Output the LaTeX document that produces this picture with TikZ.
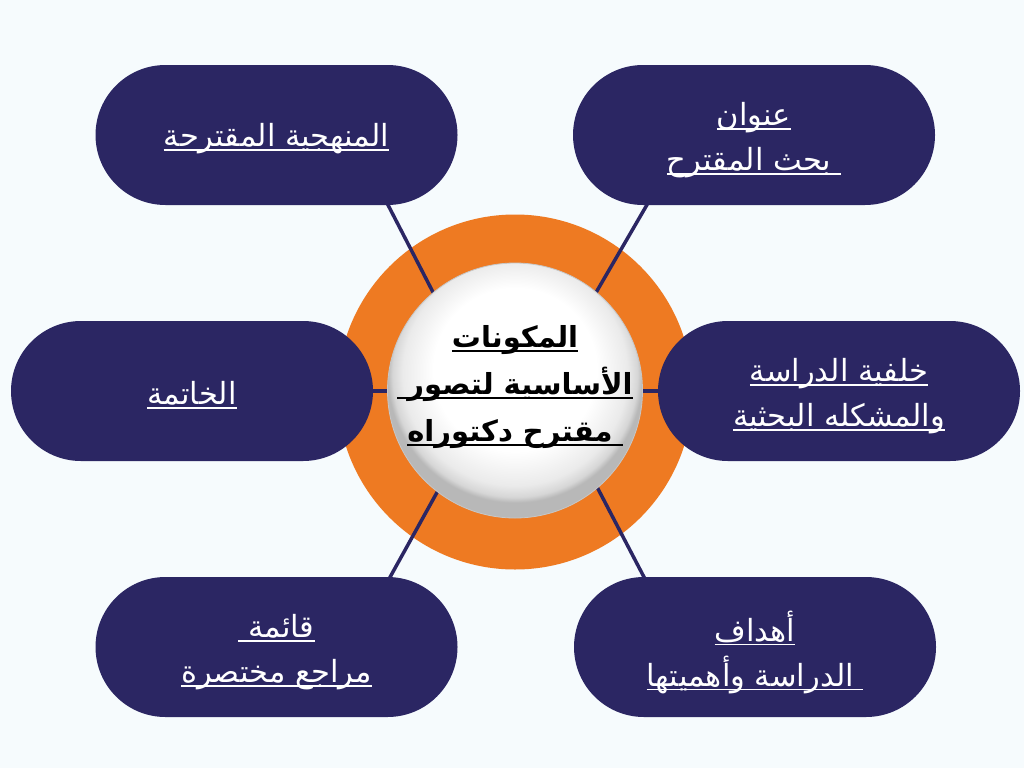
\documentclass[tikz,border=0pt]{standalone}
\usepackage{fontspec}
\newfontfamily\arabicfont[Script=Arabic]{DejaVu Sans}
\TeXXeTstate=1
\definecolor{navy}{HTML}{2B2663}
\definecolor{orng}{HTML}{EE7A22}
\definecolor{bgc}{HTML}{F6FBFD}
\newcommand\ulr[1]{\setbox0\hbox{\beginR#1\endR}\hbox{\rlap{\rule[-0.14em]{\wd0}{0.055em}}\box0}}
\pgfdeclareradialshading{sphere}{\pgfpoint{0bp}{6bp}}{color(0bp)=(white); color(16bp)=(white); color(22bp)=(black!8); color(24bp)=(black!16); color(25bp)=(black!28); color(50bp)=(black!28)}
\tikzset{
  pill/.style={fill=navy, rounded corners=70pt, minimum width=362pt, minimum height=140pt, inner sep=0pt},
  ptext/.style={text=white, align=center, inner sep=0pt, font=\arabicfont\fontsize{30.5}{45}\selectfont},
  link/.style={draw=navy, line width=3.5pt},
}
\begin{document}
\begin{tikzpicture}[x=1pt,y=-1pt]
\useasboundingbox (0,0) rectangle (1024,768);
\fill[bgc] (0,0) rectangle (1024,768);
% ring
\fill[orng] (515,392) circle (177.5pt);
% connector end points
\coordinate (a1) at (387,203); \coordinate (a2) at (436,298);
\coordinate (b1) at (648,203); \coordinate (b2) at (594,296);
\coordinate (c1) at (360,391); \coordinate (c2) at (400,391);
\coordinate (d1) at (670,391); \coordinate (d2) at (630,391);
\coordinate (e1) at (389,579); \coordinate (e2) at (440,487);
\coordinate (f1) at (645,579); \coordinate (f2) at (596,485);
\draw[link] (a1) -- (a2);
\draw[link] (b1) -- (b2);
\draw[link] (c1) -- (c2);
\draw[link] (d1) -- (d2);
\draw[link] (e1) -- (e2);
\draw[link] (f1) -- (f2);
% sphere
\shade[shading=sphere, draw=black!22, line width=0.8pt] (515,390.5) circle (127.5pt);
\node (ctr) at (515,387) [align=center, text=black, font=\arabicfont\bfseries\fontsize{29}{47}\selectfont]
  {\ulr{المكونات}\\ \ulr{الأساسية لتصور }\\ \ulr{ مقترح دكتوراه}};
% pills
\node[pill] (tl) at (276.5,135) {};
\node[pill] (tr) at (754,135) {};
\node[pill] (ml) at (192,391) {};
\node[pill] (mr) at (839,391) {};
\node[pill] (bl) at (276.5,647) {};
\node[pill] (br) at (755,647) {};
% pill texts
\node[ptext] (tlt) at (276.5,139) {\ulr{المنهجية المقترحة}};
\node[ptext] (trt) at (754,140) {\ulr{عنوان}\\ \ulr{ بحث المقترح}};
\node[ptext] (mlt) at (192,395) {\ulr{الخاتمة}};
\node[ptext] (mrt) at (839,396) {\ulr{خلفية الدراسة}\\ \ulr{والمشكله البحثية}};
\node[ptext] (blt) at (276.5,652) {\ulr{قائمة }\\ \ulr{مراجع مختصرة}};
\node[ptext] (brt) at (755,652) {\ulr{أهداف}\\ \ulr{ الدراسة وأهميتها}};
\end{tikzpicture}
\end{document}
